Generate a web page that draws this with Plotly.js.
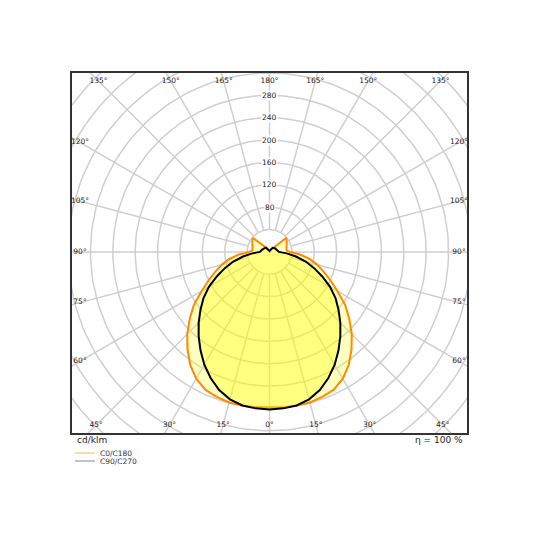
<!DOCTYPE html>
<html>
<head>
<meta charset="utf-8">
<script src="https://cdn.plot.ly/plotly-3.0.1.min.js"></script>
<style>html,body{margin:0;padding:0;background:#fff}#chart{width:540px;height:540px}</style>
</head>
<body>
<div id="chart"></div>
<script>
// luminous intensity (cd/klm), gamma = 0 is straight down
var gammaAngles = [0,5,10,15,20,25,30,35,40,45,50,55,60,65,70,75,80,85,90,
                   95,100,105,110,115,120,125,130,135,140,145,150,155,160,165,170,175,180];
var c0c180 = [278,279,279,279,276,272,262,247,228,208,186,165,140,120,103,88,73,55,36,
              30.5,31,31.5,32.5,33.5,35,37.5,38,17,10,8,6,4,3,2,2,2,2];
var c90c270 = [282,281,279,273,263,249,233,215,197,179,161,144,125,104,85,67,48,31,17,
               16,15,14,13,12.5,12,11.5,11,10.5,9.5,8,6.5,5,3.5,2.5,2,1.5,1.5];

var gridRadii = [40,80,120,160,200,240,280,320,360,400,440,480];
var radialLabels = [80,120,160,200,240,280];
var angleLabels = [0,15,30,45,60,75,90,105,120,135,150,165,180];
var seriesNames = ['C0/C180','C90/C270'];
var unitLabel = 'cd/klm';
var efficiencyLabel = 'η = 100 %';

var W = 540, H = 540, L = 72, R = 73, T = 73, B = 107;
var XR = [-353, 353], YR = [-324, 320];
var pxPerUnit = (W - L - R) / (XR[1] - XR[0]);
var FONT = 'DejaVu Sans, sans-serif';

function rad(d) { return d * Math.PI / 180; }
function px2paperX(px) { return (px - L) / (W - L - R); }
function px2paperY(py) { return (H - B - py) / (H - T - B); }

// polar (gamma, r) -> plot coords, side 1 = right half, -1 = left half
function toXY(g, r, side) {
    return [side * r * Math.sin(rad(g)), -r * Math.cos(rad(g))];
}

function curve(vals) {
    var xs = [], ys = [];
    for (var i = 0; i < gammaAngles.length; i++) {
        var p = toXY(gammaAngles[i], vals[i], 1);
        xs.push(p[0]); ys.push(p[1]);
    }
    for (var j = gammaAngles.length - 1; j >= 0; j--) {
        var q = toXY(gammaAngles[j], vals[j], -1);
        xs.push(q[0]); ys.push(q[1]);
    }
    return {x: xs, y: ys};
}

// grid circles
var cx = [], cy = [];
gridRadii.forEach(function(r) {
    for (var a = 0; a <= 360; a += 2) {
        cx.push(r * Math.sin(rad(a)));
        cy.push(-r * Math.cos(rad(a)));
    }
    cx.push(null); cy.push(null);
});

// radial spokes every 15 deg, starting at the first circle
var sx = [], sy = [];
for (var a = 0; a < 360; a += 15) {
    sx.push(gridRadii[0] * Math.sin(rad(a)), 800 * Math.sin(rad(a)), null);
    sy.push(-gridRadii[0] * Math.cos(rad(a)), -800 * Math.cos(rad(a)), null);
}

// angle labels where the spokes meet a rectangle just inside the frame
var inset = 8 / pxPerUnit;
var lx = [], ly = [], lt = [];
angleLabels.forEach(function(g) {
    var sides = (g === 0 || g === 180) ? [1] : [1, -1];
    sides.forEach(function(s) {
        var dx = s * Math.sin(rad(g)), dy = -Math.cos(rad(g));
        var t = Infinity;
        if (Math.abs(dx) > 1e-9) t = Math.min(t, (dx > 0 ? XR[1] - inset : -(XR[0] + inset)) / Math.abs(dx));
        if (Math.abs(dy) > 1e-9) t = Math.min(t, (dy > 0 ? YR[1] - inset : -(YR[0] + inset)) / Math.abs(dy));
        lx.push(t * dx); ly.push(t * dy); lt.push(g + '°');
    });
});

var orange = curve(c0c180);
var black = curve(c90c270);

var traces = [
    {x: cx, y: cy, mode: 'lines', line: {color: '#cfcfcf', width: 1.5}, hoverinfo: 'skip'},
    {x: sx, y: sy, mode: 'lines', line: {color: '#cfcfcf', width: 1.5}, hoverinfo: 'skip'},
    {x: orange.x, y: orange.y, mode: 'lines', fill: 'toself', fillcolor: 'rgba(255,255,0,0.25)',
     line: {color: '#ff8a00', width: 2}, name: seriesNames[0]},
    {x: black.x, y: black.y, mode: 'lines', fill: 'toself', fillcolor: 'rgba(255,255,0,0.33)',
     line: {color: '#000000', width: 2}, name: seriesNames[1]},
    {x: lx, y: ly, mode: 'text', text: lt, textposition: 'middle center', cliponaxis: true,
     textfont: {family: FONT, size: 7.5, color: '#222'}, hoverinfo: 'skip'}
];

var annotations = radialLabels.map(function(r) {
    return {x: 0, y: r, xref: 'x', yref: 'y', text: String(r), showarrow: false,
            bgcolor: '#ffffff', borderpad: 0, font: {family: FONT, size: 7.5, color: '#222'}};
});
annotations.push(
    {xref: 'paper', yref: 'paper', x: px2paperX(75), y: px2paperY(440), xanchor: 'left', yanchor: 'middle',
     text: unitLabel, showarrow: false, font: {family: FONT, size: 9, color: '#222'}},
    {xref: 'paper', yref: 'paper', x: px2paperX(465), y: px2paperY(440), xanchor: 'right', yanchor: 'middle',
     text: efficiencyLabel, showarrow: false, font: {family: FONT, size: 9, color: '#222'}},
    {xref: 'paper', yref: 'paper', x: px2paperX(98), y: px2paperY(453), xanchor: 'left', yanchor: 'middle',
     text: seriesNames[0], showarrow: false, font: {family: FONT, size: 7.5, color: '#333'}},
    {xref: 'paper', yref: 'paper', x: px2paperX(98), y: px2paperY(461), xanchor: 'left', yanchor: 'middle',
     text: seriesNames[1], showarrow: false, font: {family: FONT, size: 7.5, color: '#333'}}
);

var shapes = [
    {type: 'line', xref: 'paper', yref: 'paper', x0: px2paperX(75), x1: px2paperX(95),
     y0: px2paperY(453), y1: px2paperY(453), line: {color: '#f6b45a', width: 1}},
    {type: 'line', xref: 'paper', yref: 'paper', x0: px2paperX(75), x1: px2paperX(95),
     y0: px2paperY(461), y1: px2paperY(461), line: {color: '#888888', width: 1}}
];

var axisBase = {showgrid: false, zeroline: false, showticklabels: false, ticks: '',
                showline: true, mirror: true, linecolor: '#333', linewidth: 2, fixedrange: true};

var layout = {
    width: W, height: H,
    margin: {l: L, r: R, t: T, b: B, pad: 0},
    paper_bgcolor: '#ffffff', plot_bgcolor: '#ffffff',
    showlegend: false,
    xaxis: Object.assign({range: XR}, axisBase),
    yaxis: Object.assign({range: YR}, axisBase),
    annotations: annotations,
    shapes: shapes
};

Plotly.newPlot('chart', traces, layout, {displayModeBar: false, staticPlot: true});
</script>
</body>
</html>
